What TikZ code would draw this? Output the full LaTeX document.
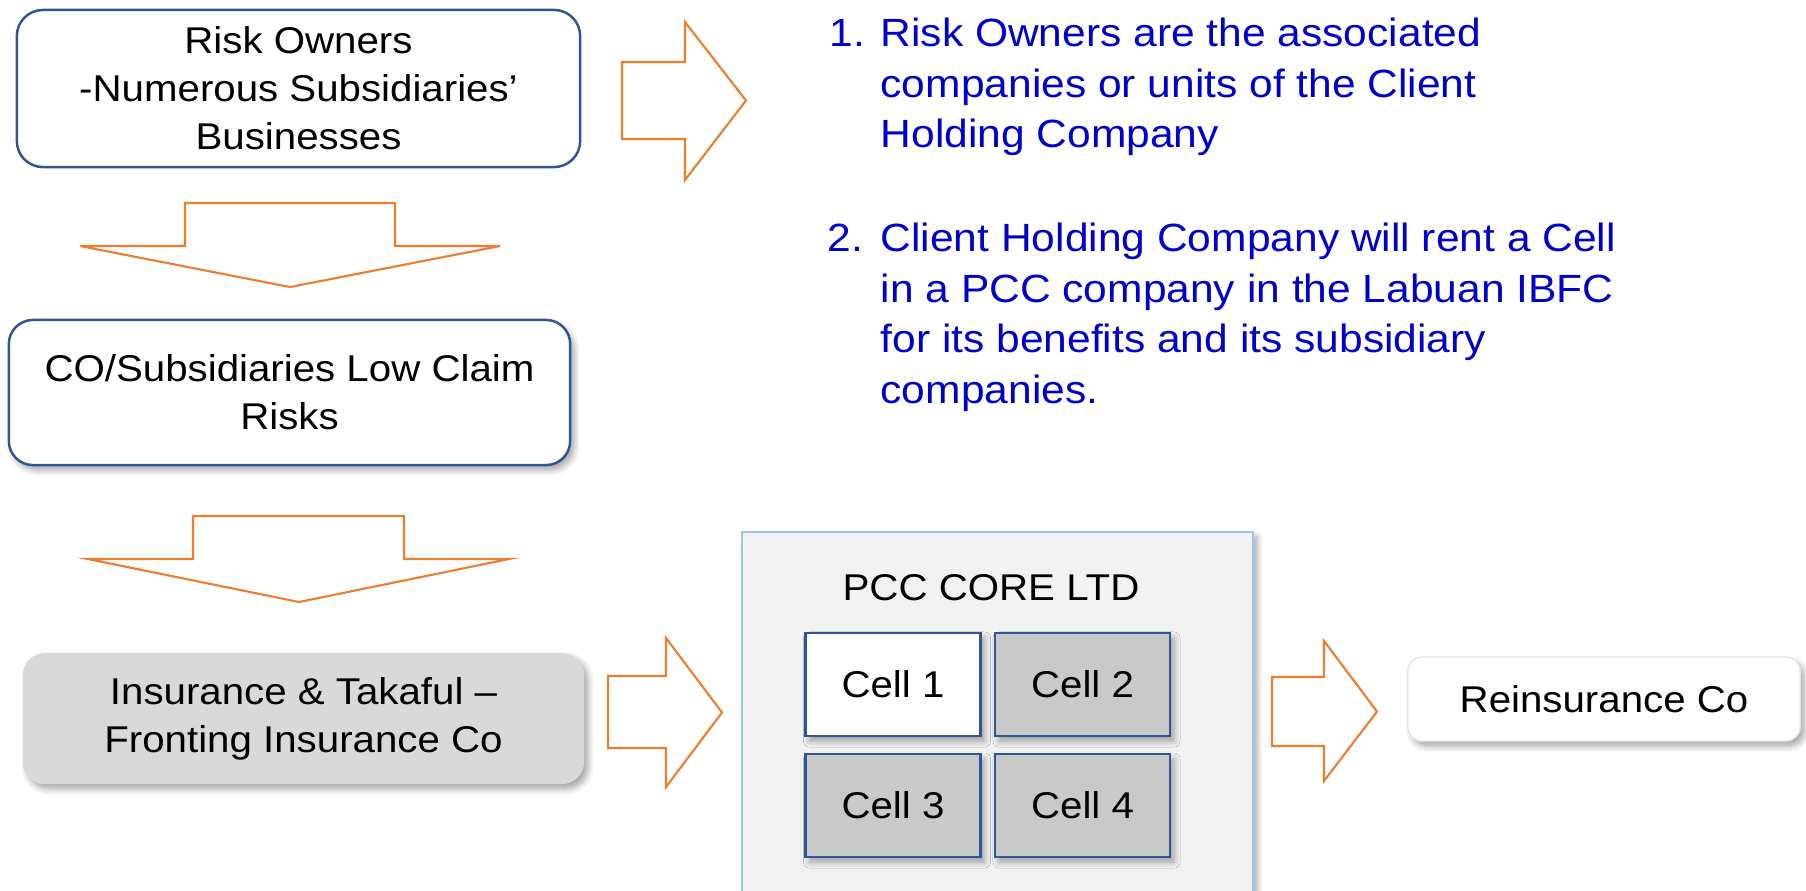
\documentclass[tikz,border=0pt]{standalone}
\usepackage{fontspec}
\setmainfont{Liberation Sans}[FakeStretch=1.08]
\usepackage{tikz}
\usetikzlibrary{shadows.blur}
\definecolor{boxblue}{HTML}{2F5597}
\definecolor{arroworange}{HTML}{ED7D31}
\definecolor{listblue}{HTML}{0000CC}
\definecolor{frontgray}{HTML}{D9D9D9}
\definecolor{cellgray}{HTML}{C9C9C9}
\definecolor{pccfill}{HTML}{F2F2F2}
\definecolor{pccedge}{HTML}{9DC3E6}
\newcommand{\boxfont}{\fontsize{10.6}{13.66}\selectfont}
\newcommand{\listfont}{\fontsize{11.2}{14.5}\selectfont}

\begin{document}
\begin{tikzpicture}[x=0.01cm,y=-0.01cm]
\tikzset{softshadow/.style={blur shadow={shadow xshift=0.4mm,shadow yshift=-0.5mm,shadow blur radius=0.6mm,shadow blur steps=6,shadow opacity=35}}}
\tikzset{blockarrow/.style={draw=arroworange,line width=0.6pt}}
\tikzstyle{roundbox} =[draw=boxblue,line width=0.7pt,fill=white,align=center,font=\boxfont,inner sep=0pt]
\tikzstyle{cellbox} =[draw=boxblue,line width=0.7pt,font=\boxfont,minimum width=1.75cm,minimum height=1.03cm,softshadow]
\tikzstyle{listtext} =[text=listblue,font=\listfont,inner sep=0pt,anchor=base west]

\useasboundingbox (0,0) rectangle (1806,890);

% left column
\node[roundbox,minimum width=5.63cm,minimum height=1.57cm,rounded corners=0.26cm](owners) at (298.5,88.5){Risk Owners\\-Numerous Subsidiaries’\\Businesses};
\node[roundbox,softshadow,minimum width=5.61cm,minimum height=1.45cm,rounded corners=0.24cm](lowclaim) at (289.5,392.5){CO/Subsidiaries Low Claim\\Risks};
\node[roundbox,softshadow,draw=none,fill=frontgray,minimum width=5.61cm,minimum height=1.31cm,rounded corners=0.22cm](fronting) at (303.5,718.5){Insurance \& Takaful –\\Fronting Insurance Co};

% the PCC and its cells
\node[draw=pccedge,line width=0.5pt,fill=pccfill,softshadow,minimum width=5.11cm,minimum height=3.8cm,inner sep=0pt](pcc) at (997.5,722){};
\node[font=\boxfont,anchor=base](pcclabel) at (991,600){PCC CORE LTD};
\node[cellbox,fill=white](cell1) at (893,684.5){Cell 1};
\node[cellbox,fill=cellgray](cell2) at (1082.5,684.5){Cell 2};
\node[cellbox,fill=cellgray](cell3) at (893,805.5){Cell 3};
\node[cellbox,fill=cellgray](cell4) at (1082.5,805.5){Cell 4};

\node[roundbox,softshadow,draw=black!10,line width=0.4pt,minimum width=3.92cm,minimum height=0.84cm,rounded corners=0.14cm](reins) at (1604,699){Reinsurance Co};

% block arrows
\draw[blockarrow] (622,62) -- (685,62) -- (685,22) -- (746,100.5) -- (685,180) -- (685,139) -- (622,139) -- cycle;
\draw[blockarrow] (185,203) -- (395,203) -- (395,246) -- (500,246) -- (290,287) -- (80,246) -- (185,246) -- cycle;
\draw[blockarrow] (193,516) -- (404,516) -- (404,559) -- (509,559) -- (299,602) -- (88,559) -- (193,559) -- cycle;
\draw[blockarrow] (608,676) -- (666,676) -- (666,638) -- (722,712.5) -- (666,787) -- (666,748) -- (608,748) -- cycle;
\draw[blockarrow] (1272,677) -- (1324,677) -- (1324,641) -- (1377,711.5) -- (1324,781) -- (1324,746) -- (1272,746) -- cycle;

% notes
\node[listtext](num1) at (829,46){1.};
\node[listtext](note1) at (880,46){\begin{tabular}[t]{@{}l@{}}Risk Owners are the associated\\companies or units of the Client\\Holding Company\end{tabular}};
\node[listtext](num2) at (827,251){2.};
\node[listtext](note2) at (880,251){\begin{tabular}[t]{@{}l@{}}Client Holding Company will rent a Cell\\in a PCC company in the Labuan IBFC\\for its benefits and its subsidiary\\companies.\end{tabular}};
\end{tikzpicture}
\end{document}
